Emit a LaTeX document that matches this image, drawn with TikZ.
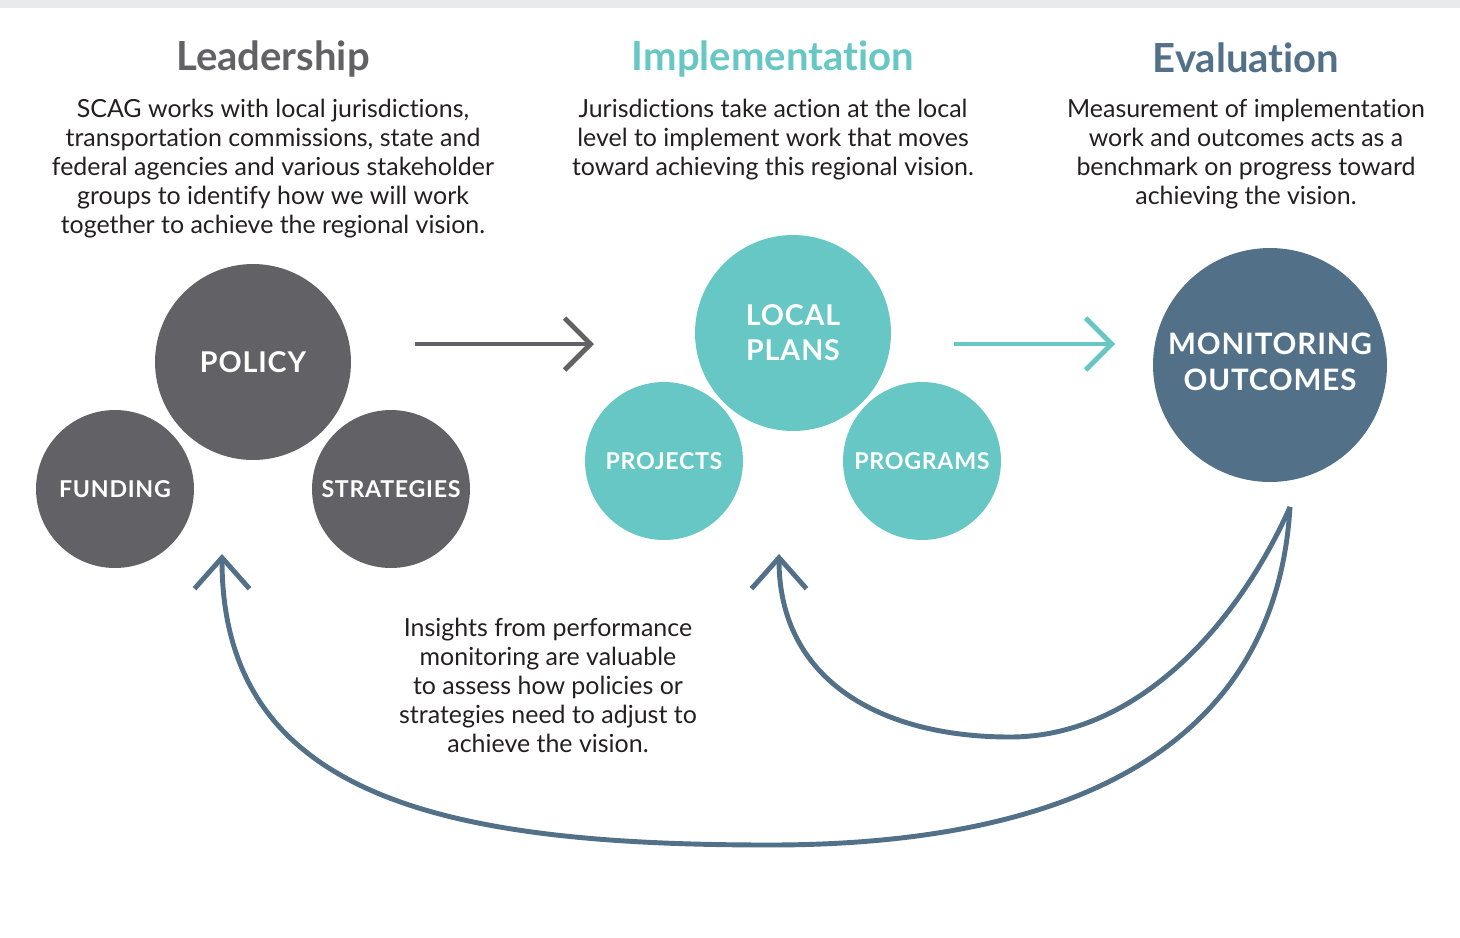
\documentclass[tikz,border=0pt]{standalone}
\usepackage{fontspec}
\setmainfont{Lato}[Ligatures=NoCommon]
\usetikzlibrary{arrows.meta}
\usetikzlibrary{positioning}
\definecolor{scagGray}{HTML}{626166}
\definecolor{scagTeal}{HTML}{66C7C5}
\definecolor{scagBlue}{HTML}{527189}
\definecolor{scagText}{HTML}{231F20}
\definecolor{scagBand}{HTML}{E8EBEE}
\tikzset{bigCirc/.style={circle, minimum size=3.92cm, inner sep=0pt, text=white, align=center, font=\fontsize{16.3}{20}\selectfont\bfseries\addfontfeature{LetterSpace=3}}}
\tikzset{smallCirc/.style={circle, minimum size=3.16cm, inner sep=0pt, text=white, font=\fontsize{13.2}{17}\selectfont\bfseries\addfontfeature{LetterSpace=3}}}
\tikzset{headText/.style={font=\fontsize{22.8}{26}\selectfont\bfseries}}
\tikzset{bodyText/.style={align=center, text=scagText, inner sep=0pt, font=\fontsize{14.2}{16.5}\selectfont}}
\tikzset{flowArrow/.style={line width=2.8pt, -{Straight Barb[length=5.2mm, width=10.4mm]}}}
\tikzset{backArrow/.style={line width=2.8pt, draw=scagBlue, -{Straight Barb[length=6.2mm, width=11mm]}}}

\begin{document}
\begin{tikzpicture}[x=0.02cm, y=-0.02cm]

\useasboundingbox (0,0) rectangle (1460,937);
\fill[scagBand] (0,0) rectangle (1460,8);

% headings
\node[headText, text=scagGray] (hLead) at (273, 59) {Leadership};
\node[headText, text=scagTeal] (hImpl) at (773, 59) {Implementation};
\node[headText, text=scagBlue] (hEval) at (1246, 58) {Evaluation};

\node[bodyText] (tLead) at (273, 169) {SCAG works with local jurisdictions,\\transportation commissions, state and\\federal agencies and various stakeholder\\groups to identify how we will work\\together to achieve the regional vision.};
\node[bodyText] (tImpl) at (773, 140) {Jurisdictions take action at the local\\level to implement work that moves\\toward achieving this regional vision.};
\node[bodyText] (tEval) at (1246, 154) {Measurement of implementation\\work and outcomes acts as a\\benchmark on progress toward\\achieving the vision.};

% leadership circles
\node[bigCirc, fill=scagGray] (policy) at (253, 362) {POLICY};
\node[smallCirc, fill=scagGray] (funding) at (115, 489) {FUNDING};
\node[smallCirc, fill=scagGray] (strat) at (391, 489) {STRATEGIES};

% implementation circles
\node[smallCirc, fill=scagTeal] (proj) at (664, 461) {PROJECTS};
\node[smallCirc, fill=scagTeal] (prog) at (922, 461) {PROGRAMS};
\node[bigCirc, fill=scagTeal] (local) at (793, 333) {LOCAL\\PLANS};

% evaluation circle
\node[bigCirc, minimum size=4.68cm, fill=scagBlue] (monit) at (1270, 365) {};
\node[text=white, align=center, font=\fontsize{16.8}{20.5}\selectfont\bfseries\addfontfeature{LetterSpace=3}] (monitTxt) at (1270, 362) {MONITORING\\OUTCOMES};

\node[bodyText] (tInsight) at (548, 685) {Insights from performance\\monitoring are valuable\\to assess how policies or\\strategies need to adjust to\\achieve the vision.};

% arrow ends
\coordinate (gA) at (415, 344);
\coordinate (gB) at (594, 344);
\coordinate (tA) at (954, 344);
\coordinate (tB) at (1115, 344);
\coordinate (fb) at (1290, 507);
\coordinate (tipLocal) at (779, 554);
\coordinate (tipLead) at (222, 554);

\draw[flowArrow, draw=scagGray] (gA) to (gB);
\draw[flowArrow, draw=scagTeal] (tA) to (tB);

\draw[backArrow] (fb) .. controls (1240, 620) and (1140, 737) .. (1010, 737) .. controls (880, 737) and (779, 680) .. (tipLocal);
\draw[backArrow] (fb) .. controls (1275, 760) and (1050, 845) .. (770, 845) .. controls (450, 845) and (222, 800) .. (tipLead);

\end{tikzpicture}
\end{document}
